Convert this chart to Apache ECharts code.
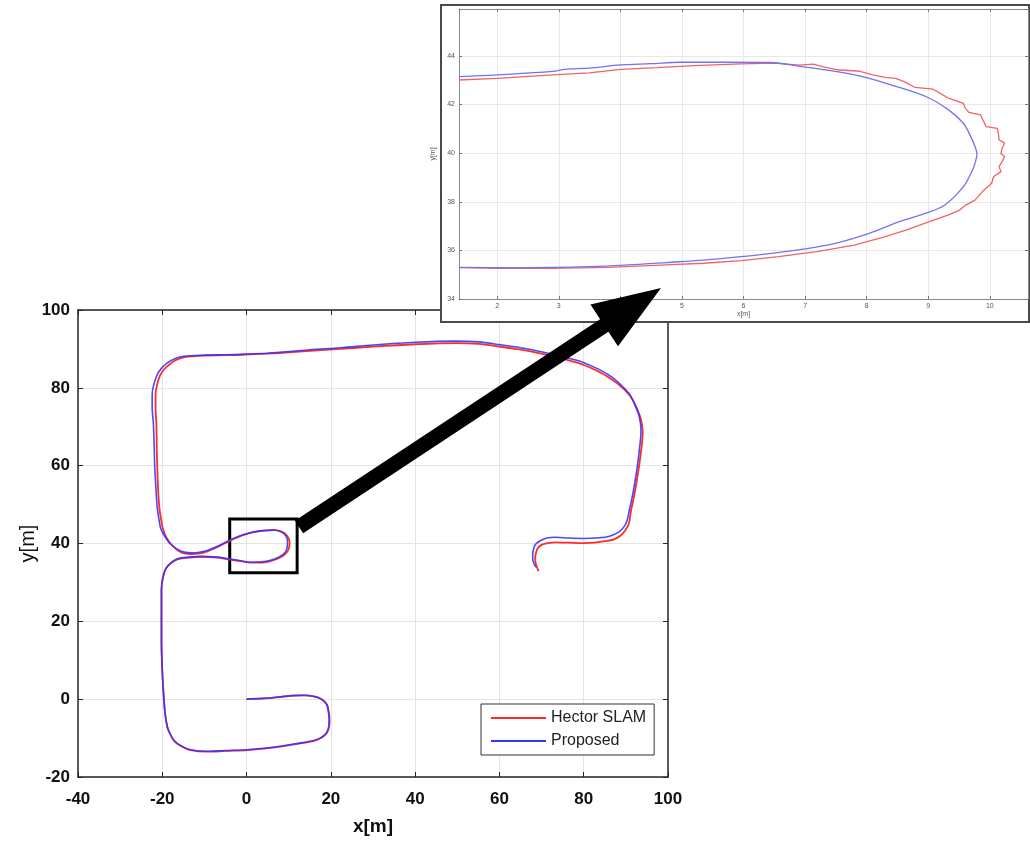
<!DOCTYPE html>
<html><head><meta charset="utf-8">
<script src="https://cdn.jsdelivr.net/npm/echarts@6/dist/echarts.min.js"></script>
<style>html,body{margin:0;padding:0;background:#fff}#c{width:1030px;height:841px}</style>
</head><body><div id="c"></div>
<script>
// ---------- data ----------
const seriesNames = ['Hector SLAM', 'Proposed'];

const hectorPath = [[0,0],[4,0.2],[8.1,0.6],[11,0.9],[13.6,1.0],[16,0.7],[17.6,0.1],[18.8,-1],[19.3,-2.0],[19.7,-5.4],[19.5,-7.5],[18.9,-8.9],[17.6,-10],[16,-10.7],[12,-11.5],[8.1,-12.2],[4,-12.7],[0.2,-13.1],[-5,-13.3],[-9.3,-13.5],[-13.3,-13.1],[-15.5,-12.1],[-17.2,-10.7],[-18.3,-8.6],[-18.8,-7.2],[-19.3,-4],[-19.6,-0.3],[-19.9,5],[-20.1,10],[-20.2,15.1],[-20.2,22],[-20.2,28],[-19.9,31],[-19.2,33.4],[-18,34.9],[-16.4,35.9],[-13.5,36.4],[-10.9,36.6],[-7,36.4],[-4.6,36],[-1,35.4],[1.0,35.1],[3.5,35.1],[5.7,35.5],[7.6,36.2],[9.1,37.2],[10,38.6],[10.2,40.4],[9.6,42],[8.4,43],[6.5,43.5],[4,43.3],[1.8,42.9],[-1,42.1],[-3.8,40.8],[-6.5,39.3],[-9.3,38.0],[-11.5,37.4],[-13.3,37.3],[-15.5,37.7],[-17.5,39.3],[-19,41.5],[-19.9,44],[-20.4,47],[-20.7,49.2],[-21,54],[-21.2,60],[-21.3,64],[-21.4,70.6],[-21.6,75],[-21.6,78.3],[-21.3,80.5],[-20.6,83],[-19.6,84.7],[-18.3,86],[-16.6,87.2],[-14.7,87.9],[-10,88.3],[-5,88.4],[-1.4,88.5],[5,88.8],[10,89.1],[15,89.5],[22.3,90],[30,90.6],[40,91.2],[49.7,91.5],[55,91.3],[60,90.6],[65,89.8],[70.2,88.7],[75,87.5],[79.7,86],[83.5,84.2],[86.8,82.1],[89.2,80],[91.1,77.8],[92.6,74.8],[93.6,71.8],[94,68.5],[93.8,65.5],[93.1,59.6],[92.5,55.5],[91.9,51.9],[91.2,48.3],[90.7,45],[89.8,43.3],[88.7,42.0],[87,41],[85.1,40.6],[82.5,40.2],[80,40.1],[76.5,40.2],[73.3,40.3],[71.5,40.1],[70.1,39.7],[69.1,38.8],[68.7,37.7],[68.5,36.6],[68.5,35.6],[68.8,34.2],[69.3,32.9]];

const proposedPath = [[0,0],[4,0.2],[8.1,0.6],[11,0.9],[13.6,1.0],[16,0.7],[17.6,0.1],[18.8,-1],[19.2,-2.0],[19.6,-5.4],[19.4,-7.5],[18.8,-8.9],[17.5,-10],[16,-10.6],[12,-11.4],[8.1,-12.1],[4,-12.6],[0.2,-13.0],[-5,-13.2],[-9.3,-13.4],[-13.3,-13.0],[-15.5,-12],[-17.2,-10.6],[-18.3,-8.5],[-18.8,-7.1],[-19.3,-4],[-19.6,-0.3],[-19.9,5],[-20.1,10],[-20.2,15.1],[-20.2,22],[-20.2,28],[-19.9,31],[-19.2,33.5],[-18,35],[-16.4,36.1],[-13.5,36.5],[-10.9,36.7],[-7,36.5],[-4.6,36.1],[-1,35.5],[1.0,35.2],[3.5,35.3],[5.7,35.7],[7.5,36.4],[8.9,37.4],[9.6,38.8],[9.7,40.6],[9.3,42],[8.2,43],[6.5,43.4],[4,43.3],[1.8,43.0],[-1,42.2],[-3.8,41.0],[-6.5,39.5],[-9.3,38.2],[-11.5,37.7],[-13.3,37.6],[-15.5,38],[-18,39.8],[-19.5,42],[-20.4,44.0],[-20.9,47],[-21.2,49.2],[-21.5,54],[-21.8,60],[-21.9,64],[-22.1,70.6],[-22.4,75],[-22.4,78.3],[-22.1,80.5],[-21.2,83.4],[-20.2,85],[-18.8,86.4],[-17,87.5],[-14.9,88.1],[-10,88.4],[-5,88.5],[-1.4,88.6],[5,88.9],[10,89.3],[15,89.8],[22.3,90.3],[30,91],[40,91.7],[49.7,92],[55,91.8],[60,91.1],[65,90.3],[70.2,89.2],[75,88],[79.7,86.6],[83.5,84.8],[86.8,82.7],[89,80.6],[90.8,78.5],[92.2,75.5],[93.2,72.5],[93.6,69],[93.4,66],[92.7,59.6],[92.1,55.5],[91.5,51.9],[90.8,48.5],[90.3,45.9],[89.5,44.2],[88.3,42.9],[86.8,42.1],[85.1,41.6],[82.5,41.4],[80,41.3],[76.5,41.4],[73.3,41.6],[71.3,41.4],[69.7,40.7],[68.6,39.8],[68.1,38.6],[67.9,37.2],[67.9,36.0],[68.2,34.8],[68.7,33.9]];

const insetHector = [[1.38,43.01],[2.0,43.08],[2.9,43.22],[3.5,43.3],[4.0,43.45],[4.6,43.52],[5.2,43.6],[5.96,43.67],[6.5,43.7],[6.9,43.62],[7.13,43.66],[7.3,43.55],[7.55,43.42],[7.86,43.38],[8.1,43.22],[8.3,43.12],[8.47,43.08],[8.6,42.95],[8.78,42.71],[9.08,42.63],[9.2,42.45],[9.33,42.26],[9.57,42.05],[9.6,41.85],[9.66,41.68],[9.85,41.57],[9.9,41.3],[9.94,41.09],[10.12,41.02],[10.14,40.8],[10.15,40.54],[10.24,40.41],[10.2,40.2],[10.18,39.99],[10.24,39.86],[10.2,39.65],[10.15,39.45],[10.18,39.24],[10.06,39.03],[10.03,38.76],[9.88,38.42],[9.76,38.07],[9.6,37.85],[9.51,37.66],[9.33,37.46],[9.02,37.18],[8.65,36.84],[8.29,36.56],[7.8,36.22],[7.19,35.95],[6.57,35.74],[5.96,35.58],[5.35,35.47],[4.74,35.4],[3.82,35.3],[2.9,35.26],[2.0,35.26],[1.38,35.29]];

const insetProposed = [[1.38,43.15],[2.0,43.22],[2.9,43.36],[3.1,43.45],[3.5,43.5],[4.0,43.63],[4.5,43.68],[4.98,43.74],[5.72,43.74],[6.45,43.73],[6.94,43.56],[7.49,43.36],[7.98,43.12],[8.41,42.8],[8.96,42.33],[9.33,41.78],[9.57,41.23],[9.69,40.68],[9.77,40.2],[9.79,39.93],[9.76,39.6],[9.72,39.31],[9.57,38.62],[9.27,37.87],[8.96,37.53],[8.53,37.18],[8.04,36.7],[7.49,36.29],[6.94,36.04],[6.45,35.88],[5.96,35.74],[5.35,35.6],[4.74,35.5],[4.13,35.4],[3.52,35.33],[2.29,35.29],[1.38,35.3]];

const mainX = {min: -40, max: 100, step: 20};
const mainY = {min: -20, max: 100, step: 20};
const insetX = {min: 1.38, max: 10.62, step: 1};
const insetY = {min: 34, max: 45.93, step: 2};
const zoomBox = [[-4, 46.3], [12, 32.5]];
const axisNames = {x: 'x[m]', y: 'y[m]'};

// ---------- styling ----------
const sans = "'Liberation Sans',Arial,sans-serif";
const dark = '#262626';
const gridC = '#e4e4e4';
const RED = '#ff2a2a', BLUE = '#3434ff';
const RED2 = '#ef6464', BLUE2 = '#7272f2';

function mainAxis(cfg, pos, primary, isX) {
  return {
    type: 'value', gridIndex: 0, position: pos, min: cfg.min, max: cfg.max, interval: cfg.step,
    axisLine: {show: true, onZero: false, lineStyle: {color: dark, width: 1.5}},
    axisTick: {show: true, inside: true, length: 5, lineStyle: {color: dark, width: 1}},
    axisLabel: {show: primary, margin: isX ? 14 : 8, fontSize: 17, fontWeight: 'bold', fontFamily: sans, color: '#111'},
    splitLine: {show: primary, lineStyle: {color: gridC, width: 1}},
    name: primary ? (isX ? axisNames.x : axisNames.y) : '',
    nameLocation: 'middle',
    nameGap: isX ? 40 : 40,
    nameMoveOverlap: false,
    nameTextStyle: isX ? {fontSize: 19, fontWeight: 'bold', fontFamily: sans, color: '#111'}
                       : {fontSize: 20, fontFamily: sans, color: '#111'},
    z: 1
  };
}
function insetAxis(cfg, pos, primary, isX) {
  const a = {
    type: 'value', gridIndex: 1, position: pos, min: cfg.min, max: cfg.max,
    axisLine: {show: true, onZero: false, lineStyle: {color: '#8a8a8a', width: 1}},
    axisTick: {show: true, inside: true, length: 3, lineStyle: {color: '#777'}},
    axisLabel: {show: primary, margin: 4, fontSize: 7, fontFamily: sans, color: '#555', showMinLabel: isX ? false : true, showMaxLabel: false},
    splitLine: {show: primary, lineStyle: {color: '#e8e8e8', width: 1}},
    name: primary ? (isX ? axisNames.x : axisNames.y) : '',
    nameLocation: 'middle', nameGap: isX ? 12 : 10,
    nameTextStyle: {fontSize: 7, fontFamily: sans, color: '#555'},
    z: 5
  };
  if (isX) { a.minInterval = cfg.step; a.maxInterval = cfg.step; }
  else { a.interval = cfg.step; }
  return a;
}

// arrow geometry (annotation)
const tail = [299, 527], tip = [661, 288];
const dx = tip[0] - tail[0], dy = tip[1] - tail[1], L = Math.hypot(dx, dy);
const u = [dx / L, dy / L], n = [-u[1], u[0]];
const headLen = 68, headHalf = 25, shaftHalf = 7.5;
const base = [tip[0] - u[0] * headLen, tip[1] - u[1] * headLen];
const P = (p, k) => [p[0] + n[0] * k, p[1] + n[1] * k];
const arrowPts = [P(tail, shaftHalf), P(base, shaftHalf), P(base, headHalf), tip, P(base, -headHalf), P(base, -shaftHalf), P(tail, -shaftHalf)];

const chart = echarts.init(document.getElementById('c'), null, {renderer: 'canvas'});
chart.setOption({
  animation: false,
  backgroundColor: '#fff',
  grid: [
    {left: 78, top: 310, width: 590, height: 467, containLabel: false},
    {left: 459, top: 9, width: 569, height: 290, containLabel: false}
  ],
  xAxis: [
    mainAxis(mainX, 'bottom', true, true),
    mainAxis(mainX, 'top', false, true),
    insetAxis(insetX, 'bottom', true, true),
    insetAxis(insetX, 'top', false, true)
  ],
  yAxis: [
    mainAxis(mainY, 'left', true, false),
    mainAxis(mainY, 'right', false, false),
    insetAxis(insetY, 'left', true, false),
    insetAxis(insetY, 'right', false, false)
  ],
  legend: {
    data: seriesNames, orient: 'vertical', left: 481, top: 704,
    icon: 'rect', itemWidth: 55, itemHeight: 2, itemGap: 7,
    padding: [6, 8, 6, 10], borderColor: '#333', borderWidth: 1, borderRadius: 0,
    backgroundColor: '#fff',
    textStyle: {fontSize: 16, color: '#222', fontFamily: sans},
    z: 8
  },
  graphic: {elements: [
    {type: 'rect', shape: {x: 441, y: 5, width: 588, height: 317}, style: {fill: '#fff', stroke: '#4a4a4a', lineWidth: 2}, z: 4, silent: true},
    {type: 'polygon', shape: {points: arrowPts}, style: {fill: '#000'}, z: 20, silent: true}
  ]},
  series: [
    {name: seriesNames[0], type: 'line', xAxisIndex: 0, yAxisIndex: 0, data: hectorPath,
     symbol: 'none', showSymbol: false, smooth: 0.3, lineStyle: {color: RED, width: 1.8}, itemStyle: {color: RED}, z: 2},
    {name: seriesNames[1], type: 'line', xAxisIndex: 0, yAxisIndex: 0, data: proposedPath,
     symbol: 'none', showSymbol: false, smooth: 0.3, lineStyle: {color: BLUE, width: 1.6, opacity: 0.9}, itemStyle: {color: BLUE}, z: 3,
     markArea: {silent: true, label: {show: false},
       itemStyle: {color: 'rgba(0,0,0,0)', borderColor: '#000', borderWidth: 3},
       data: [[{coord: zoomBox[0]}, {coord: zoomBox[1]}]]}},
    {name: 'inset-hector', type: 'line', xAxisIndex: 2, yAxisIndex: 2, data: insetHector,
     symbol: 'none', showSymbol: false, lineStyle: {color: RED2, width: 1.3}, z: 6},
    {name: 'inset-proposed', type: 'line', xAxisIndex: 2, yAxisIndex: 2, data: insetProposed,
     symbol: 'none', showSymbol: false, smooth: 0.35, lineStyle: {color: BLUE2, width: 1.3}, z: 7}
  ]
});
</script>
</body></html>
